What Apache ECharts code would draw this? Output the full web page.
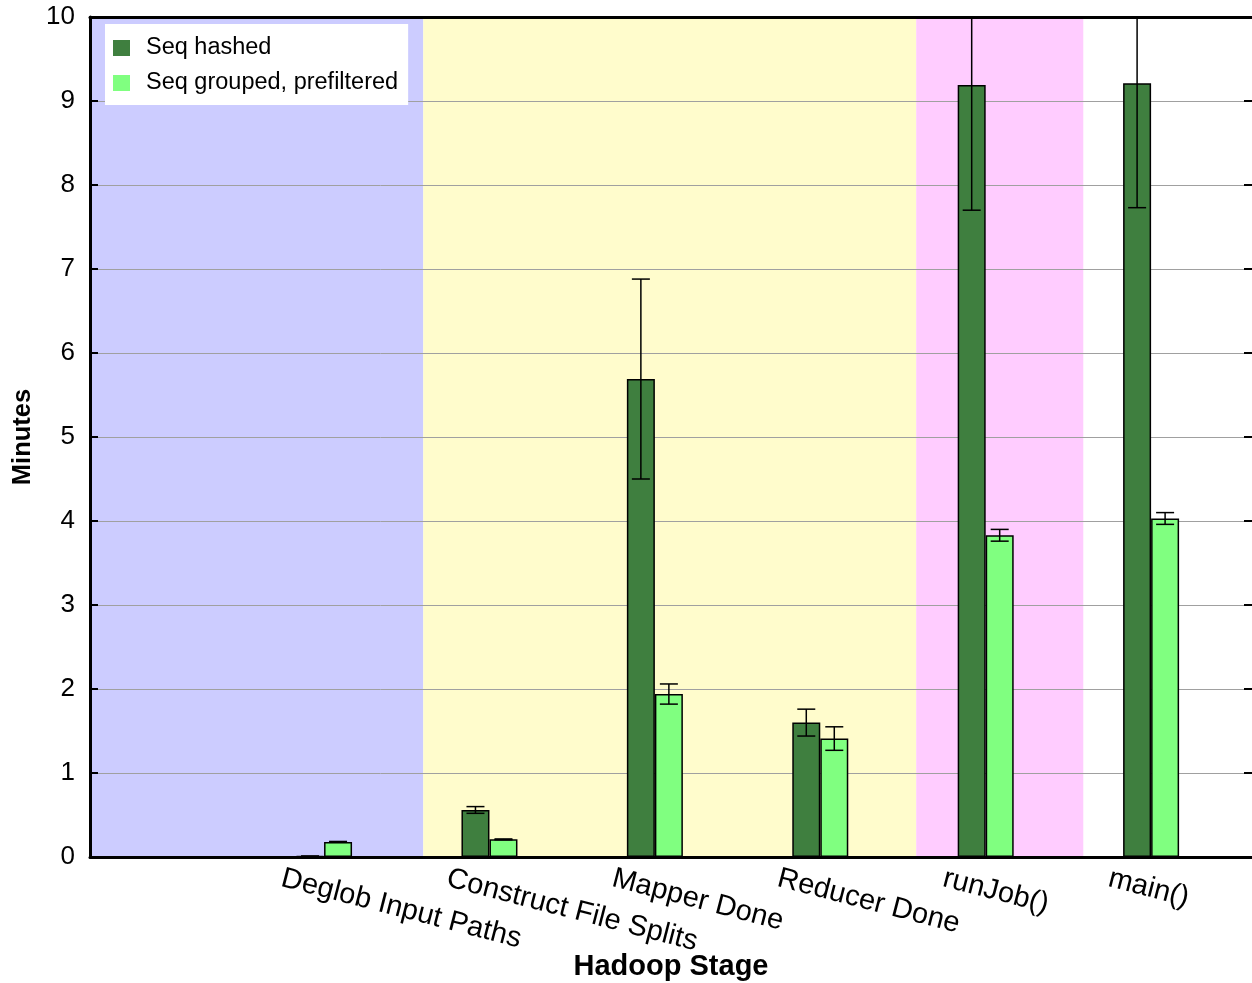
<!DOCTYPE html>
<html>
<head>
<meta charset="utf-8">
<title>Hadoop Stage</title>
<script src="https://cdn.jsdelivr.net/npm/echarts@6/dist/echarts.min.js"></script>
<style>
  html, body { margin: 0; padding: 0; background: #fff; }
  #chart { width: 1252px; height: 983px; }
</style>
</head>
<body>
<div id="chart"></div>
<script>
// data (minutes)
const categories = ['Deglob Input Paths', 'Construct File Splits', 'Mapper Done', 'Reducer Done', 'runJob()', 'main()'];
const seqHashed = [0.01, 0.56, 5.69, 1.60, 9.19, 9.21];
const seqHashedErr = [0, 0.04, 1.19, 0.16, 1.49, 1.48];
const seqGrouped = [0.18, 0.21, 1.94, 1.41, 3.83, 4.03];
const seqGroupedErr = [0.005, 0.005, 0.12, 0.14, 0.07, 0.07];

// shaded stage groups, in category units
const bandFrom = [-1.415, 0.6, 3.58];
const bandTo = [0.6, 3.58, 4.59];

const yMin = 0, yMax = 10, yStep = 1;
const xMin = -1.415, xMax = 5.61;
const labelShift = 0.255;

const FONT = '"Liberation Sans", Arial, Helvetica, sans-serif';
const bandColors = ['#ccccff', '#fffccc', '#ffccff'];
const darkGreen = '#3f7f3f';
const lightGreen = '#80ff80';

const chart = echarts.init(document.getElementById('chart'));

function errorBars(name, values, errs, dx) {
    return {
        name: name + ' err',
        type: 'custom',
        z: 4,
        silent: true,
        encode: { x: 0, y: [1, 2] },
        data: values.map((v, i) => [i, v - errs[i], v + errs[i]]),
        renderItem: (params, api) => {
            const x = api.value(0);
            const hiRaw = api.value(2);
            const pLo = api.coord([x, api.value(1)]);
            const pHi = api.coord([x, Math.min(hiRaw, yMax)]);
            const cx = pLo[0] + dx;
            const st = { stroke: '#000', lineWidth: 1.5 };
            const children = [
                { type: 'line', shape: { x1: cx, y1: pLo[1], x2: cx, y2: pHi[1] }, style: st },
                { type: 'line', shape: { x1: cx - 9, y1: pLo[1], x2: cx + 9, y2: pLo[1] }, style: st }
            ];
            if (hiRaw <= yMax) {
                children.push({ type: 'line', shape: { x1: cx - 9, y1: pHi[1], x2: cx + 9, y2: pHi[1] }, style: st });
            }
            return { type: 'group', children: children };
        }
    };
}

const option = {
    animation: false,
    textStyle: { fontFamily: FONT, color: '#000' },
    grid: { left: 90, right: 0, top: 17, bottom: 126, outerBoundsMode: 'none', containLabel: false },
    legend: {
        orient: 'vertical',
        left: 105,
        top: 24,
        backgroundColor: '#fff',
        padding: [12, 10, 10, 8],
        itemWidth: 17,
        itemHeight: 16,
        itemGap: 11,
        icon: 'rect',
        itemStyle: { borderWidth: 0 },
        textStyle: { fontSize: 23.5, color: '#000', fontFamily: FONT, padding: [0, 0, 0, 11] },
        data: ['Seq hashed', 'Seq grouped, prefiltered']
    },
    xAxis: [
        {
            type: 'value',
            position: 'bottom',
            min: xMin,
            max: xMax,
            name: 'Hadoop Stage',
            nameLocation: 'middle',
            nameGap: 95,
            nameMoveOverlap: false,
            nameTextStyle: { fontSize: 29, fontWeight: 'bold', color: '#000', fontFamily: FONT },
            axisLine: { show: true, onZero: false, lineStyle: { color: '#000', width: 3 } },
            axisTick: { show: false },
            splitLine: { show: false },
            axisLabel: {
                customValues: categories.map((c, i) => i - labelShift),
                formatter: (v) => categories[Math.round(v + labelShift)] || '',
                rotate: -14.5,
                margin: 21,
                fontSize: 29,
                color: '#000',
                fontFamily: FONT
            }
        },
        {
            type: 'value',
            position: 'top',
            min: xMin,
            max: xMax,
            axisLine: { show: true, onZero: false, lineStyle: { color: '#000', width: 3 } },
            axisTick: { show: false },
            axisLabel: { show: false },
            splitLine: { show: false }
        }
    ],
    yAxis: [
        {
            type: 'value',
            position: 'left',
            min: yMin,
            max: yMax,
            interval: yStep,
            name: 'Minutes',
            nameLocation: 'middle',
            nameGap: 54,
            nameMoveOverlap: false,
            nameTextStyle: { fontSize: 25.5, fontWeight: 'bold', color: '#000', fontFamily: FONT },
            axisLine: { show: true, onZero: false, lineStyle: { color: '#000', width: 3 } },
            axisTick: { show: true, inside: true, length: 8, lineStyle: { color: '#000', width: 2 } },
            axisLabel: { fontSize: 26, color: '#000', margin: 15, fontFamily: FONT },
            splitLine: { show: true, lineStyle: { color: '#a0a0a0', width: 1 } }
        },
        {
            type: 'value',
            position: 'right',
            min: yMin,
            max: yMax,
            interval: yStep,
            axisLine: { show: false, onZero: false },
            axisTick: { show: true, inside: true, length: 8, lineStyle: { color: '#000', width: 2 } },
            axisLabel: { show: false },
            splitLine: { show: false }
        }
    ],
    series: [
        {
            name: 'bands',
            type: 'custom',
            z: -1,
            silent: true,
            encode: { x: [0, 1], y: [2, 3] },
            data: bandFrom.map((f, i) => [f, bandTo[i], yMin, yMax, i]),
            renderItem: (params, api) => {
                const p0 = api.coord([api.value(0), api.value(3)]);
                const p1 = api.coord([api.value(1), api.value(2)]);
                return {
                    type: 'rect',
                    shape: { x: p0[0], y: p0[1], width: p1[0] - p0[0], height: p1[1] - p0[1] },
                    style: { fill: bandColors[api.value(4)] }
                };
            }
        },
        {
            name: 'Seq hashed',
            type: 'bar',
            barWidth: 28,
            barGap: '0%',
            itemStyle: { color: darkGreen, borderColor: '#000', borderWidth: 1.5 },
            data: seqHashed.map((v, i) => [i, v])
        },
        {
            name: 'Seq grouped, prefiltered',
            type: 'bar',
            barWidth: 28,
            barGap: '0%',
            itemStyle: { color: lightGreen, borderColor: '#000', borderWidth: 1.5 },
            data: seqGrouped.map((v, i) => [i, v])
        },
        errorBars('Seq hashed', seqHashed, seqHashedErr, -14),
        errorBars('Seq grouped, prefiltered', seqGrouped, seqGroupedErr, 14)
    ]
};

chart.setOption(option);
</script>
</body>
</html>
